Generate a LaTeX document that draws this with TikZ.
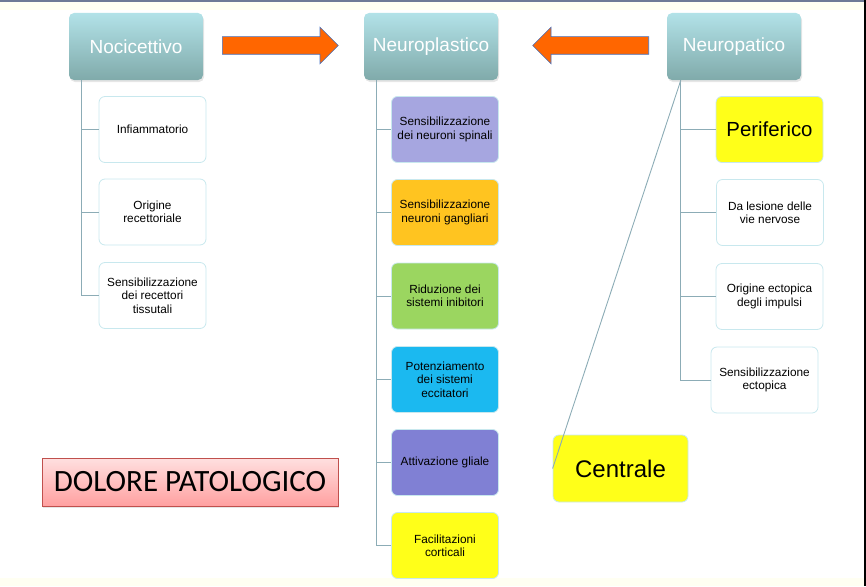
\documentclass[tikz,border=0pt]{standalone}
\usepackage{fontspec}
\setmainfont{Liberation Sans}
\newfontfamily\calibrifont{Carlito}
\usetikzlibrary{calc, shapes.arrows, shadows}

\definecolor{headtop}{RGB}{178,226,232}
\definecolor{headbottom}{RGB}{128,170,170}
\definecolor{boxedge}{RGB}{200,232,238}
\definecolor{wire}{RGB}{140,172,182}
\definecolor{arroworange}{RGB}{255,102,0}
\definecolor{arrowedge}{RGB}{68,114,196}
\definecolor{spinalpurple}{RGB}{166,166,224}
\definecolor{gangorange}{RGB}{255,196,32}
\definecolor{riduzgreen}{RGB}{155,214,96}
\definecolor{potenzcyan}{RGB}{27,185,240}
\definecolor{glialpurple}{RGB}{128,128,212}
\definecolor{brightyellow}{RGB}{255,255,25}
\definecolor{titletop}{RGB}{255,224,224}
\definecolor{titlebottom}{RGB}{255,160,160}
\definecolor{titleedge}{RGB}{192,80,77}
\definecolor{creamband}{RGB}{255,255,242}
\definecolor{topline}{RGB}{110,122,150}

\tikzset{
    my-head-box/.style={
        rectangle, rounded corners=5pt, minimum width=134pt, minimum height=67pt,
        top color=headtop, bottom color=headbottom, text=white,
        font=\fontsize{19}{22}\selectfont,
        drop shadow={opacity=.2, shadow xshift=1pt, shadow yshift=-2pt}
    },
    my-sub-box/.style={
        rectangle, rounded corners=6pt, draw=boxedge, fill=white, line width=.8pt,
        minimum width=107pt, minimum height=66pt, inner sep=2pt, align=center,
        font=\fontsize{11.8}{13.4}\selectfont
    },
    my-big-box/.style={
        my-sub-box, fill=brightyellow, font=\fontsize{20.4}{24}\selectfont
    },
    my-big-arrow/.style={
        single arrow, draw=arrowedge, fill=arroworange, line width=.6pt,
        minimum height=116pt, inner xsep=0pt, inner ysep=8.5pt,
        single arrow head extend=9.5pt, anchor=tail
    },
    my-title-box/.style={
        rectangle, draw=titleedge, top color=titletop, bottom color=titlebottom,
        minimum width=296pt, minimum height=48pt, inner sep=0pt,
        font=\calibrifont\fontsize{31}{35}\selectfont,
        drop shadow={opacity=.2, shadow xshift=1pt, shadow yshift=-1.5pt}
    },
    my-wire/.style={
        draw=wire, line width=.9pt
    },
}

\begin{document}
\begin{tikzpicture}[x=1pt, y=-1pt]

        % PAGE FRAME
        \useasboundingbox (0, 0) rectangle (866, 586);
        \fill[creamband] (0, 2)   rectangle (866, 10);
        \fill[creamband] (0, 578) rectangle (866, 586);
        \fill[topline]   (0, 0)   rectangle (866, 2);
        \fill[black]     (864, 0) rectangle (866, 586);

        % HEADS
        \node[my-head-box] (NOCI)    at (136, 46.5) {Nocicettivo};
        \node[my-head-box] (PLASTIC) at (431, 46.5) {Neuroplastico};
        \node[my-head-box] (PATIC)   at (734, 46.5) {Neuropatico};

        % BIG ARROWS BETWEEN HEADS
        \node[my-big-arrow]                          (ARROWR) at (222, 45.5) {};
        \node[my-big-arrow, shape border rotate=180] (ARROWL) at (649, 45.5) {};

        % NOCICETTIVO CHILDREN
        \node[my-sub-box] (INFIAM) at ($(NOCI)   + (16.5, 83)$)   {Infiammatorio};
        \node[my-sub-box] (ORIREC) at ($(INFIAM) + (0, 82.5)$)    {Origine\\recettoriale};
        \node[my-sub-box] (SENREC) at ($(ORIREC) + (0, 83.5)$)    {Sensibilizzazione\\dei recettori\\tissutali};

        % NEUROPLASTICO CHILDREN
        \node[my-sub-box, fill=spinalpurple] (SPINAL) at ($(PLASTIC) + (14, 83)$) {Sensibilizzazione\\dei neuroni spinali};
        \node[my-sub-box, fill=gangorange]   (GANG)   at ($(SPINAL)  + (0, 83)$)  {Sensibilizzazione\\neuroni gangliari};
        \node[my-sub-box, fill=riduzgreen]   (RIDUZ)  at ($(GANG)    + (0, 83.5)$) {Riduzione dei\\sistemi inibitori};
        \node[my-sub-box, fill=potenzcyan]   (POTENZ) at ($(RIDUZ)   + (0, 83.5)$) {Potenziamento\\dei sistemi\\eccitatori};
        \node[my-sub-box, fill=glialpurple]  (GLIAL)  at ($(POTENZ)  + (0, 83)$)  {Attivazione gliale};
        \node[my-sub-box, fill=brightyellow] (CORTIC) at ($(GLIAL)   + (0, 83)$)  {Facilitazioni\\corticali};

        % NEUROPATICO CHILDREN
        \node[my-big-box] (PERIF)   at ($(PATIC)   + (35.5, 83)$) {Periferico};
        \node[my-sub-box] (LESION)  at ($(PERIF)   + (0.5, 83)$)  {Da lesione delle\\vie nervose};
        \node[my-sub-box] (ECTORIG) at ($(LESION)  + (-0.5, 84)$) {Origine ectopica\\degli impulsi};
        \node[my-sub-box] (ECTSENS) at ($(ECTORIG) + (-5, 83.5)$) {Sensibilizzazione\\ectopica};
        \node[my-big-box, minimum width=135pt, minimum height=67pt, font=\fontsize{24}{28}\selectfont]
                          (CENTRALE) at ($(PATIC) + (-113.5, 422)$) {Centrale};

        % TRUNK POINTS UNDER THE HEADS
        \coordinate (NOCITRUNK)    at ($(NOCI.south west)    + (13, 0)$);
        \coordinate (PLASTICTRUNK) at ($(PLASTIC.south west) + (13, 0)$);
        \coordinate (PATICTRUNK)   at ($(PATIC.south west)   + (14, 0)$);

        % WIRES - NOCICETTIVO
        \draw[my-wire] (NOCITRUNK) |- (INFIAM.west);
        \draw[my-wire] (NOCITRUNK) |- (ORIREC.west);
        \draw[my-wire] (NOCITRUNK) |- (SENREC.west);

        % WIRES - NEUROPLASTICO
        \draw[my-wire] (PLASTICTRUNK) |- (SPINAL.west);
        \draw[my-wire] (PLASTICTRUNK) |- (GANG.west);
        \draw[my-wire] (PLASTICTRUNK) |- (RIDUZ.west);
        \draw[my-wire] (PLASTICTRUNK) |- (POTENZ.west);
        \draw[my-wire] (PLASTICTRUNK) |- (GLIAL.west);
        \draw[my-wire] (PLASTICTRUNK) |- (CORTIC.west);

        % WIRES - NEUROPATICO
        \draw[my-wire] (PATICTRUNK) |- (PERIF.west);
        \draw[my-wire] (PATICTRUNK) |- (LESION.west);
        \draw[my-wire] (PATICTRUNK) |- (ECTORIG.west);
        \draw[my-wire] (PATICTRUNK) |- (ECTSENS.west);
        \draw[my-wire] (PATICTRUNK) -- (CENTRALE.west);

        % TITLE
        \node[my-title-box] (DOLORE) at (190, 482) {DOLORE PATOLOGICO};

\end{tikzpicture}
\end{document}
